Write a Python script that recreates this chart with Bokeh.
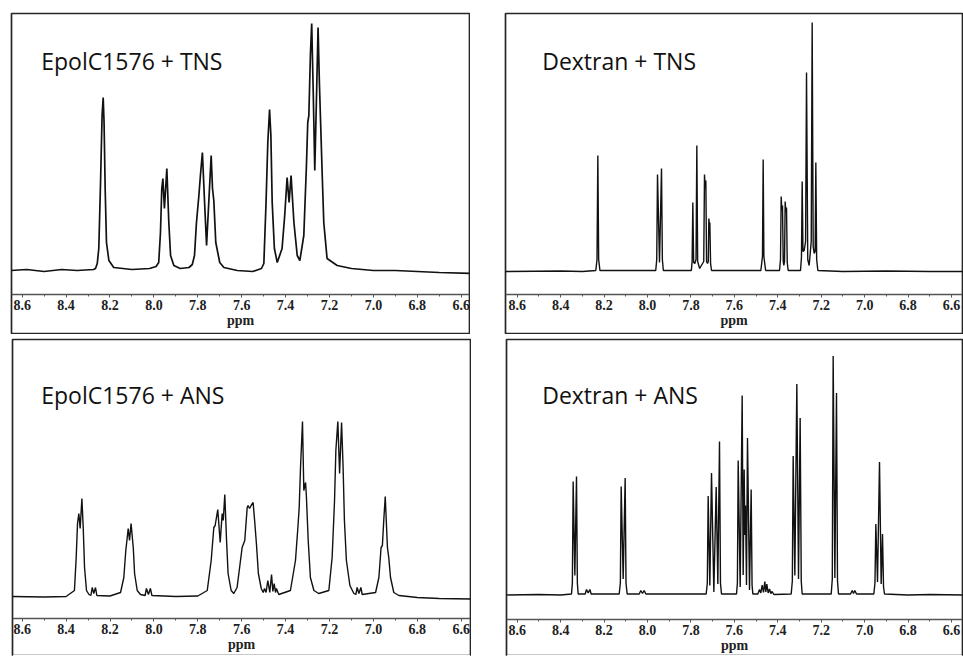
from bokeh.plotting import figure
from bokeh.models import Range1d, FixedTicker, Label, BoxAnnotation, Spacer, PrintfTickFormatter
from bokeh.layouts import row, column
from bokeh.embed import file_html
from bokeh.resources import INLINE

# ---------------- data (chemical shift in ppm, intensity in a.u.) ----------------
major_ticks = [8.6, 8.4, 8.2, 8.0, 7.8, 7.6, 7.4, 7.2, 7.0, 6.8, 6.6]
minor_ticks = [8.5, 8.3, 8.1, 7.9, 7.7, 7.5, 7.3, 7.1, 6.9, 6.7]

titles = ["EpolC1576 + TNS", "Dextran + TNS", "EpolC1576 + ANS", "Dextran + ANS"]

epol_tns = [
    (8.650, 0), (8.58, 1), (8.50, -1), (8.42, 1), (8.35, 0), (8.275, 1),
    (8.266, 2), (8.258, 7), (8.251, 22), (8.243, 88), (8.236, 155), (8.231, 173), (8.227, 148),
    (8.222, 82), (8.216, 28), (8.205, 10), (8.183, 3),
    (8.10, 1), (8.02, 2), (7.99, 4),
    (7.978, 8), (7.970, 38), (7.964, 82), (7.959, 92), (7.952, 62), (7.941, 102), (7.932, 48),
    (7.924, 15), (7.909, 5),
    (7.88, 2), (7.84, 3), (7.825, 6),
    (7.815, 15), (7.806, 48), (7.795, 75), (7.788, 95), (7.779, 118), (7.769, 68), (7.760, 25),
    (7.750, 68), (7.739, 115), (7.733, 82), (7.727, 70), (7.718, 28), (7.700, 8), (7.681, 3),
    (7.62, 0), (7.55, -1), (7.51, 2),
    (7.499, 7), (7.489, 68), (7.481, 128), (7.473, 161), (7.467, 135), (7.461, 68), (7.451, 22),
    (7.438, 8),
    (7.416, 22), (7.404, 55), (7.393, 93), (7.384, 68), (7.375, 95), (7.362, 48), (7.347, 15),
    (7.335, 10),
    (7.317, 35), (7.305, 105), (7.299, 148), (7.294, 155), (7.287, 215), (7.281, 247), (7.274, 178),
    (7.267, 100), (7.259, 175), (7.252, 243), (7.246, 188), (7.241, 152), (7.233, 95), (7.226, 48),
    (7.211, 12), (7.165, 5),
    (7.10, 2), (7.00, 0), (6.90, 0), (6.80, -1), (6.70, -2), (6.55, -3),
]

dextran_tns = [
    (8.660, 0), (8.40, 0.5), (8.30, 0),
    (8.238, 1), (8.2325, 12), (8.2287, 116), (8.2249, 12), (8.219, 1),
    (7.962, 1), (7.9575, 12), (7.9539, 97), (7.9447, 9), (7.9355, 103), (7.9315, 12), (7.927, 1),
    (7.798, 1), (7.7945, 10), (7.7912, 69), (7.7875, 9), (7.7820, 8), (7.7765, 12), (7.7728, 126),
    (7.7690, 10), (7.7600, 3), (7.7410, 10), (7.7375, 97), (7.7344, 83), (7.7313, 91), (7.7280, 10),
    (7.7237, 8), (7.7200, 10), (7.7175, 53), (7.7152, 47), (7.7129, 49), (7.7095, 8), (7.705, 1),
    (7.478, 1), (7.4705, 15), (7.4673, 112), (7.4640, 15), (7.456, 1),
    (7.3921, 1), (7.3875, 12), (7.3844, 75), (7.3813, 61), (7.3783, 66), (7.3750, 10), (7.3721, 6),
    (7.3690, 10), (7.3660, 70), (7.3629, 59), (7.3598, 64), (7.3565, 9), (7.3522, 1),
    (7.2954, 1), (7.2910, 14), (7.2877, 90), (7.2840, 20), (7.2785, 21), (7.2720, 30), (7.2677, 199),
    (7.2620, 12), (7.2555, 6), (7.2460, 30), (7.2417, 249), (7.2370, 25), (7.2324, 18), (7.2280, 20),
    (7.2248, 109), (7.2210, 12), (7.2155, 1),
    (7.10, 0), (6.90, 0.5), (6.70, 0), (6.54, 0),
]

epol_ans = [
    (8.650, 0), (8.50, -0.5), (8.40, 0),
    (8.362, 6), (8.354, 39), (8.348, 73), (8.342, 83), (8.336, 68), (8.328, 98), (8.322, 69),
    (8.316, 29), (8.307, 6), (8.296, 2),
    (8.287, 1), (8.281, 9), (8.274, 3), (8.266, 9), (8.260, 1),
    (8.20, 0.5), (8.152, 4), (8.137, 19), (8.128, 46), (8.117, 68), (8.111, 56), (8.104, 73),
    (8.094, 49), (8.088, 23), (8.076, 6), (8.061, 2),
    (8.040, 1), (8.034, 8), (8.025, 2), (8.016, 8), (8.009, 1),
    (7.90, 0), (7.80, 0.5),
    (7.757, 6), (7.739, 36), (7.727, 69), (7.721, 71), (7.709, 87), (7.698, 54), (7.689, 83),
    (7.684, 76), (7.677, 102), (7.669, 56), (7.662, 23), (7.648, 6), (7.636, 3),
    (7.621, 9), (7.598, 49), (7.586, 56), (7.575, 89), (7.571, 91), (7.564, 88), (7.557, 91),
    (7.548, 94), (7.540, 73), (7.533, 53), (7.524, 23), (7.511, 8), (7.502, 4),
    (7.496, 8), (7.489, 4), (7.481, 16), (7.472, 4), (7.464, 22), (7.458, 5), (7.452, 13),
    (7.446, 4), (7.442, 8), (7.431, 2),
    (7.378, 6), (7.355, 36), (7.344, 69), (7.338, 89), (7.332, 129), (7.323, 175), (7.317, 106),
    (7.309, 114), (7.305, 99), (7.297, 56), (7.287, 19), (7.271, 6), (7.249, 3),
    (7.203, 6), (7.188, 39), (7.177, 96), (7.171, 146), (7.162, 175), (7.154, 123), (7.145, 174),
    (7.138, 129), (7.132, 76), (7.123, 36), (7.107, 11), (7.089, 3),
    (7.080, 2), (7.074, 9), (7.066, 3), (7.057, 9), (7.051, 2),
    (6.990, 4), (6.975, 19), (6.965, 49), (6.959, 51), (6.952, 79), (6.946, 100), (6.940, 69),
    (6.936, 49), (6.930, 39), (6.922, 19), (6.907, 4), (6.884, 1),
    (6.80, -1), (6.70, -2), (6.55, -2.5),
]

dextran_ans = [
    (8.660, 0), (8.50, 0.5), (8.40, 0),
    (8.3499, 1), (8.3460, 12), (8.3423, 113.5), (8.3346, 19.5), (8.3269, 118.5), (8.3230, 12), (8.3193, 1),
    (8.287, 1), (8.2809, 5.5), (8.2732, 2), (8.2655, 5.5), (8.2594, 1),
    (8.1304, 1), (8.1250, 12), (8.1212, 108.5), (8.1120, 16), (8.1028, 117), (8.0990, 12), (8.0936, 1),
    (8.0383, 1), (8.0307, 4.5), (8.0230, 1.5), (8.0153, 4.5), (8.0076, 1),
    (7.7298, 1), (7.7245, 12), (7.7206, 99), (7.7129, 9.5), (7.7052, 122), (7.6945, 3), (7.6837, 108),
    (7.6761, 11), (7.6684, 153.5), (7.6640, 12), (7.6592, 1),
    (7.5901, 1), (7.5860, 12), (7.5824, 134.5), (7.5732, 8), (7.5640, 199.5), (7.5594, 20),
    (7.5548, 125.5), (7.5517, 60), (7.5487, 89.5), (7.5441, 10), (7.5395, 157), (7.5302, 5),
    (7.5226, 105.5), (7.5185, 10), (7.5149, 1),
    (7.4919, 1), (7.4842, 5.5), (7.4781, 2), (7.4720, 10), (7.4658, 2.5), (7.4597, 13.5), (7.4551, 3),
    (7.4504, 11), (7.4443, 2), (7.4381, 6), (7.4320, 1.5), (7.4259, 3.5), (7.4182, 0.5),
    (7.3384, 1), (7.3330, 14), (7.3292, 139), (7.3215, 19.5), (7.3123, 211), (7.3046, 16),
    (7.2970, 177), (7.2920, 14), (7.2877, 1),
    (7.1541, 1), (7.1490, 16), (7.1450, 239), (7.1372, 17), (7.1296, 202), (7.1250, 14), (7.1204, 1),
    (7.0651, 1), (7.0574, 4.5), (7.0513, 1.5), (7.0452, 4.5), (7.0375, 1),
    (6.9577, 1), (6.9525, 12), (6.9485, 71), (6.9408, 13), (6.9316, 133), (6.9239, 11), (6.9178, 61),
    (6.9130, 8), (6.9086, 1),
    (6.80, 0), (6.70, 0.5), (6.54, 0),
]


def panel(points, title, width, height, xr, yr, axis_at, tx, ty_from_top, lw, cut_bottom):
    frame_h = height - (1 if cut_bottom else 2)
    p = figure(width=width, height=height, title=None,
               x_range=Range1d(*xr), y_range=Range1d(*yr),
               output_backend="svg", toolbar_location=None, y_axis_location=None,
               min_border_left=1, min_border_right=1, min_border_top=1,
               min_border_bottom=0 if cut_bottom else 1,
               background_fill_color="white", border_fill_color="white",
               outline_line_color="#262626", outline_line_width=1.7)
    p.grid.grid_line_color = None
    ppm = [a for a, b in points]
    inten = [b for a, b in points]
    p.line(x=ppm, y=inten, line_color="#111111", line_width=lw)

    ax = p.xaxis[0]
    ax.fixed_location = axis_at
    ax.ticker = FixedTicker(ticks=major_ticks, minor_ticks=minor_ticks)
    ax.formatter = PrintfTickFormatter(format="%.1f")
    ax.axis_line_color = "#555555"
    ax.axis_line_width = 1.5
    ax.major_tick_line_color = "#555555"
    ax.minor_tick_line_color = "#555555"
    ax.major_tick_in = 0
    ax.major_tick_out = 3
    ax.minor_tick_in = 0
    ax.minor_tick_out = 2
    ax.major_label_standoff = 2
    ax.major_label_text_font = "Liberation Serif"
    ax.major_label_text_font_style = "bold"
    ax.major_label_text_font_size = "14px"
    ax.major_label_text_color = "#222222"
    ax.axis_label = "ppm"
    ax.axis_label_standoff = 0
    ax.axis_label_text_font = "Liberation Serif"
    ax.axis_label_text_font_style = "bold"
    ax.axis_label_text_font_size = "14px"
    ax.axis_label_text_color = "#222222"

    p.add_layout(Label(x=tx, y=frame_h - ty_from_top, x_units="screen", y_units="screen", text=title,
                       text_font="Open Sans", text_font_size="23px", text_color="#111111",
                       text_align="left", text_baseline="alphabetic"))
    if cut_bottom:
        p.add_layout(BoxAnnotation(top=yr[0] + 1.5, fill_color="white", fill_alpha=1.0,
                                   line_alpha=0, level="overlay"))
    return p


p1 = panel(epol_tns, titles[0], 460, 322, (8.6487, 6.5621), (-63.0, 257.0), -24, 29.7, 47.7, 1.7, False)
p2 = panel(dextran_tns, titles[1], 459, 322, (8.6539, 6.5494), (-62.0, 258.0), -23, 36.7, 47.7, 1.4, False)
p3 = panel(epol_ans, titles[2], 460, 318, (8.6442, 6.5576), (-60.0, 257.0), -22.3, 28.7, 55.3, 1.4, True)
p4 = panel(dextran_ans, titles[3], 458, 318, (8.6493, 6.5494), (-61.5, 255.5), -24.5, 35.7, 55.3, 1.4, True)

layout = column(
    Spacer(width=10, height=12),
    row(Spacer(width=10, height=322), p1, Spacer(width=34, height=322), p2),
    Spacer(width=10, height=4),
    row(Spacer(width=11, height=318), p3, Spacer(width=34, height=318), p4),
)

open("out.html", "w").write(file_html(layout, INLINE))
